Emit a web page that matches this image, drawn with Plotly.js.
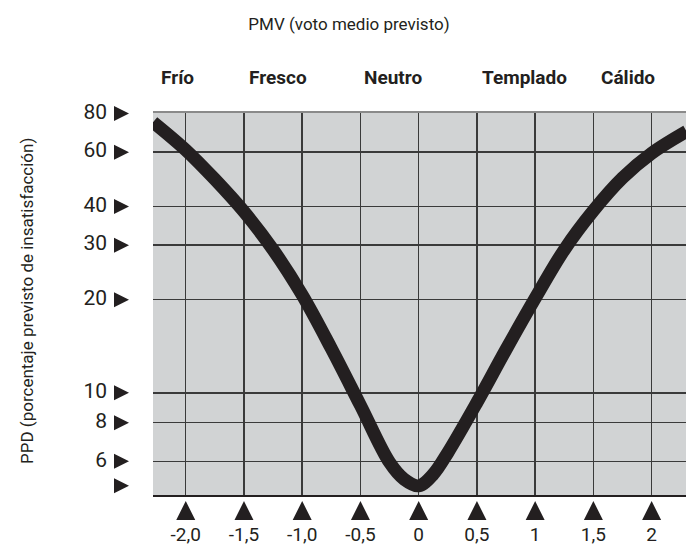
<!DOCTYPE html>
<html>
<head>
<meta charset="utf-8">
<script src="https://cdn.plot.ly/plotly-3.0.1.min.js"></script>
<style>
  html, body { margin: 0; padding: 0; background: #ffffff; }
  #chart { width: 686px; height: 547px; }
</style>
</head>
<body>
<div id="chart"></div>
<script>
// ---- data ----
const pmv = [-2.28, -2.0, -1.75, -1.5, -1.25, -1.0, -0.75, -0.5, -0.25, -0.125, 0, 0.125, 0.25, 0.5, 0.75, 1.0, 1.25, 1.5, 1.75, 2.0, 2.3];
const ppd = [75, 61, 49, 38.5, 29, 20.7, 13.9, 9.1, 5.95, 5.25, 5.0, 5.45, 6.4, 9.3, 13.8, 20.2, 29, 38.8, 49.5, 59.5, 70];

const xTickVals = [-2, -1.5, -1, -0.5, 0, 0.5, 1, 1.5, 2];
const xTickText = ['-2,0', '-1,5', '-1,0', '-0,5', '0', '0,5', '1', '1,5', '2'];
const yTickVals = [80, 60, 40, 30, 20, 10, 8, 6, 5];
const yTickText = ['80', '60', '40', '30', '20', '10', '8', '6', ''];
const yGridVals = [60, 40, 30, 20, 10, 8, 6];
const sensations = ['Frío', 'Fresco', 'Neutro', 'Templado', 'Cálido'];

// ---- layout constants (pixel geometry of the canvas) ----
const sensationAt = [-2.07, -1.21, -0.22, 0.91, 1.80];
const FONT = 'Roboto, "Liberation Sans", sans-serif';
const INK = '#231f20';
const W = 686, H = 547;
const PL = 153, PR = 686, PT = 112, PB = 495;          // main plot box
const XR = [-2.281, 2.295];
const YR = [Math.log10(4.67), Math.log10(80.9)];
const fx = p => p / W;                 // px -> paper x
const fy = p => 1 - p / H;             // px -> paper y
// strip below the plot for the x triangles (px 490..540, range 0..1)
const SB_TOP = 490, SB_BOT = 540;
const stripY = p => (SB_BOT - p) / (SB_BOT - SB_TOP);
// strip left of the plot for the y triangles + labels (px 40..145, range 0..1)
const SL_L = 40, SL_R = 145;
const stripX = p => (p - SL_L) / (SL_R - SL_L);

const curve = {
  x: pmv, y: ppd, xaxis: 'x', yaxis: 'y', type: 'scatter', mode: 'lines',
  line: { color: INK, width: 13, shape: 'spline', smoothing: 1 },
  hoverinfo: 'skip', showlegend: false
};

const yMarks = {
  x: yTickVals.map(() => stripX(129)), y: yTickVals,
  xaxis: 'x3', yaxis: 'y3', type: 'scatter', mode: 'markers',
  marker: { symbol: 'arrow-right', size: 15, color: INK, line: { width: 0 } },
  cliponaxis: false, hoverinfo: 'skip', showlegend: false
};

const yLabels = {
  x: yTickVals.map(() => stripX(107)), y: yTickVals, text: yTickText,
  xaxis: 'x3', yaxis: 'y3', type: 'scatter', mode: 'text', textposition: 'middle left',
  textfont: { family: FONT, size: 21, color: INK },
  cliponaxis: false, hoverinfo: 'skip', showlegend: false
};

const xMarks = {
  x: xTickVals, y: xTickVals.map(() => stripY(501)),
  xaxis: 'x2', yaxis: 'y2', type: 'scatter', mode: 'markers',
  marker: { symbol: 'arrow-up', size: 19, color: INK, line: { width: 0 } },
  cliponaxis: false, hoverinfo: 'skip', showlegend: false
};

const annotations = sensations.map((s, i) => ({
  text: '<b>' + s + '</b>', x: sensationAt[i], xref: 'x', y: fy(78), yref: 'paper',
  xanchor: 'center', yanchor: 'middle', showarrow: false,
  font: { family: FONT, size: 19, color: INK }
}));
annotations.push({
  text: 'PPD (porcentaje previsto de insatisfacción)',
  x: fx(27), xref: 'paper', y: fy(301), yref: 'paper',
  xanchor: 'center', yanchor: 'middle', textangle: -90, showarrow: false,
  font: { family: FONT, size: 17, color: INK }
});

const hidden = { showgrid: false, zeroline: false, showticklabels: false, ticks: '', showline: false, fixedrange: true };

const layout = {
  width: W, height: H,
  margin: { l: 0, r: 0, t: 0, b: 0, pad: 0 },
  paper_bgcolor: '#ffffff', plot_bgcolor: 'rgba(0,0,0,0)',
  font: { family: FONT, color: INK },
  title: {
    text: 'PMV (voto medio previsto)',
    x: 349 / W, xref: 'container', xanchor: 'center',
    y: 1 - 24 / H, yref: 'container', yanchor: 'middle',
    font: { family: FONT, size: 17, color: INK }
  },
  xaxis: {
    domain: [fx(PL), fx(PR)], anchor: 'y',
    range: XR, tickvals: xTickVals, ticktext: xTickText,
    showgrid: true, gridcolor: '#3a3a3a', gridwidth: 1.5, zeroline: false,
    showline: true, linecolor: INK, linewidth: 2, ticks: '',
    ticklabelstandoff: 21,
    tickfont: { family: FONT, size: 19, color: INK }, fixedrange: true
  },
  yaxis: {
    domain: [fy(PB), fy(PT)], anchor: 'x',
    type: 'log', range: YR,
    tickvals: yGridVals, showticklabels: false, ticks: '',
    showgrid: true, gridcolor: '#3a3a3a', gridwidth: 1.5, zeroline: false,
    showline: false, fixedrange: true
  },
  xaxis2: Object.assign({ domain: [fx(PL), fx(PR)], anchor: 'y2', range: XR }, hidden),
  yaxis2: Object.assign({ domain: [fy(SB_BOT), fy(SB_TOP)], anchor: 'x2', range: [0, 1] }, hidden),
  xaxis3: Object.assign({ domain: [fx(SL_L), fx(SL_R)], anchor: 'y3', range: [0, 1] }, hidden),
  yaxis3: Object.assign({ domain: [fy(PB), fy(PT)], anchor: 'x3', type: 'log', range: YR }, hidden),
  shapes: [
    { type: 'rect', xref: 'x domain', yref: 'y domain', x0: 0, x1: 1, y0: 0, y1: 1,
      fillcolor: '#d1d3d4', line: { width: 0 }, layer: 'below' },
    { type: 'line', xref: 'x domain', yref: 'y domain', x0: 0, x1: 1, y0: 1, y1: 1,
      line: { color: '#8a8a8a', width: 2 }, layer: 'above' }
  ],
  annotations: annotations,
  showlegend: false
};

Plotly.newPlot('chart', [curve, yMarks, yLabels, xMarks], layout, { staticPlot: true, displayModeBar: false });
</script>
</body>
</html>
